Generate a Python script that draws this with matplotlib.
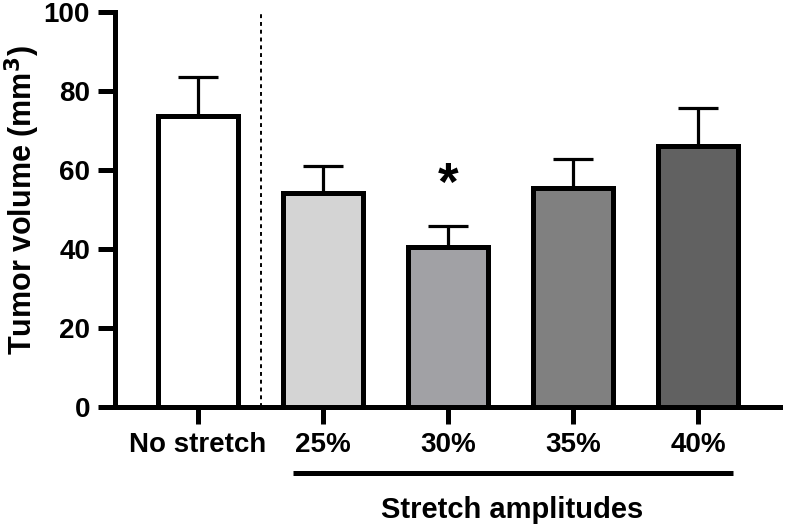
import matplotlib
matplotlib.use("Agg")
import matplotlib.pyplot as plt

categories = ["No stretch", "25%", "30%", "35%", "40%"]
means = [73.7, 54.1, 40.6, 55.5, 66.1]
errors = [9.9, 6.9, 5.2, 7.3, 9.7]
colors = ["#ffffff", "#d4d4d4", "#a1a1a5", "#808080", "#616161"]
yticks = [0, 20, 40, 60, 80, 100]
star_index = 2
star_y = 56.0

plt.rcParams['font.family'] = ['Liberation Sans', 'DejaVu Sans']
plt.rcParams['font.weight'] = 'bold'

fig = plt.figure(figsize=(7.86, 5.30), dpi=100)
ax = fig.add_axes([115/786, 1-407/530, (780-115)/786, (407-12)/530])

x = list(range(len(categories)))
ax.bar(x, means, width=0.64, color=colors, edgecolor="black", linewidth=3.6, zorder=2)
ax.errorbar(x, means, yerr=[[0]*len(errors), errors], fmt="none", ecolor="black",
            elinewidth=2.3, capsize=14.5, capthick=2.3, zorder=1)

ax.axvline(0.5, ymin=0, ymax=1, color="black", linestyle=(0, (2, 2)), linewidth=1.4, zorder=0)

ax.text(star_index, star_y, "*", ha="center", va="center", fontsize=38, fontweight="bold")

ax.set_xlim(-0.664, 4.656)
ax.set_ylim(0, 100)
ax.set_yticks(yticks)
ax.set_xticks(x)
ax.set_xticklabels(categories)

for s in ["top", "right"]:
    ax.spines[s].set_visible(False)
for s in ["left", "bottom"]:
    ax.spines[s].set_linewidth(3.6)
ax.tick_params(axis="both", width=3.6, length=12, labelsize=20, pad=6)

fig.text(22/786, 1-200/530, "Tumor volume (mm$^\\mathbf{3}$)", rotation=90,
         ha="center", va="center", fontsize=22, fontweight="bold")

tr = ax.get_xaxis_transform()
ax.plot([0.76, 4.28], [-0.167, -0.167], transform=tr, color="black", linewidth=3.6,
        clip_on=False, solid_capstyle="butt")
ax.text(2.51, -0.261, "Stretch amplitudes", transform=tr, ha="center", va="center",
        fontsize=21, fontweight="bold")

fig.savefig("out.png", dpi=100)
